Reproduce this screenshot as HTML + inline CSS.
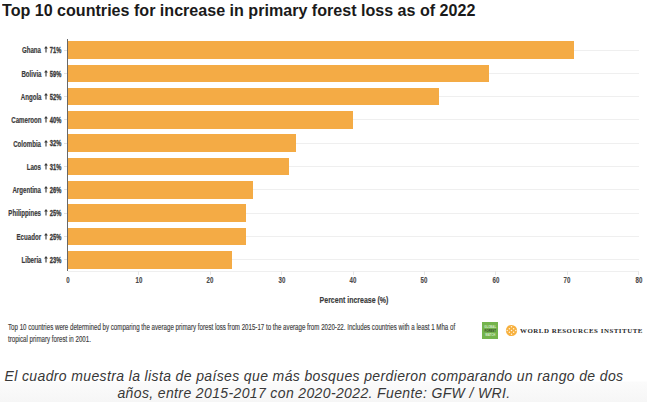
<!DOCTYPE html>
<html><head><meta charset="utf-8">
<style>
html,body{margin:0;padding:0;}
body{width:647px;height:402px;position:relative;overflow:hidden;font-family:"Liberation Sans",sans-serif;
background:linear-gradient(to bottom,#ffffff 0px,#ffffff 381px,#fbfbfb 382px,#f6f6f6 402px);}
.a{position:absolute;white-space:nowrap;}
.title{left:2px;top:0.9px;font-size:17px;font-weight:bold;color:#1a1a1a;letter-spacing:0px;line-height:20px;transform:scaleX(0.946);transform-origin:left top;}
.grid{position:absolute;left:68px;width:571px;height:1px;background:#efefef;}
.bar{position:absolute;left:68px;height:17.6px;background:#f4ab45;}
.axis{position:absolute;left:67.2px;top:38.5px;width:1.1px;height:232.5px;background:#686868;}
.lab{position:absolute;right:585.8px;font-size:9px;font-weight:bold;color:#3a3a3a;line-height:10px;transform:scaleX(0.68);transform-origin:right center;white-space:nowrap;-webkit-text-stroke:0.2px #3a3a3a;}
.lab svg{display:inline-block;vertical-align:baseline;margin:0 2px 0 0.9px;}
.tick{position:absolute;left:64px;width:3px;height:1px;background:#e2e2e2;}
.xt{position:absolute;top:271px;width:1px;height:4px;background:#e8e8e8;}
.xl{position:absolute;top:274.5px;width:40px;margin-left:-20px;text-align:center;font-size:9px;font-weight:bold;color:#4a4a4a;line-height:10px;transform:scaleX(0.68);-webkit-text-stroke:0.15px #4a4a4a;}
.xlab{left:304px;top:294.9px;width:100px;text-align:center;font-size:8.7px;font-weight:bold;color:#3a3a3a;line-height:11px;transform:scaleX(0.805);-webkit-text-stroke:0.15px #3a3a3a;}
.foot{left:8px;top:320.7px;font-size:8.4px;color:#404040;line-height:12.0px;transform:scaleX(0.736);transform-origin:left top;-webkit-text-stroke:0.15px #404040;}
.cap{left:-9.5px;top:368.0px;width:647px;text-align:center;font-size:14px;font-style:italic;color:#383838;line-height:16.6px;letter-spacing:0.37px;}
</style></head><body>
<div class="a title">Top 10 countries for increase in primary forest loss as of 2022</div>
<div class="grid" style="top:49.60px"></div>
<div class="grid" style="top:72.89px"></div>
<div class="grid" style="top:96.18px"></div>
<div class="grid" style="top:119.47px"></div>
<div class="grid" style="top:142.76px"></div>
<div class="grid" style="top:166.05px"></div>
<div class="grid" style="top:189.34px"></div>
<div class="grid" style="top:212.63px"></div>
<div class="grid" style="top:235.92px"></div>
<div class="grid" style="top:259.21px"></div>
<div class="grid" style="top:271px"></div>
<div class="bar" style="top:41.30px;width:506.26px"></div>
<div class="bar" style="top:64.59px;width:420.61px"></div>
<div class="bar" style="top:87.88px;width:370.65px"></div>
<div class="bar" style="top:111.17px;width:285.00px"></div>
<div class="bar" style="top:134.46px;width:227.90px"></div>
<div class="bar" style="top:157.75px;width:220.76px"></div>
<div class="bar" style="top:181.04px;width:185.08px"></div>
<div class="bar" style="top:204.33px;width:177.94px"></div>
<div class="bar" style="top:227.62px;width:177.94px"></div>
<div class="bar" style="top:250.91px;width:163.66px"></div>
<div class="axis"></div>
<div class="tick" style="top:49.60px"></div>
<div class="tick" style="top:72.89px"></div>
<div class="tick" style="top:96.18px"></div>
<div class="tick" style="top:119.47px"></div>
<div class="tick" style="top:142.76px"></div>
<div class="tick" style="top:166.05px"></div>
<div class="tick" style="top:189.34px"></div>
<div class="tick" style="top:212.63px"></div>
<div class="tick" style="top:235.92px"></div>
<div class="tick" style="top:259.21px"></div>
<div class="lab" style="top:45.40px;right:585.8px;transform:scaleX(0.595);font-size:9.7px;-webkit-text-stroke:0.35px #3a3a3a;top:45.25px">71%</div>
<div class="lab" style="top:45.40px;right:605.5px">Ghana</div>
<svg class="a" style="left:43.9px;top:46.40px" width="4" height="7" viewBox="0 0 4 7"><path d="M2 0 L3.9 2.5 L2.55 2.5 L2.55 6.6 L1.45 6.6 L1.45 2.5 L0.1 2.5 Z" fill="#3a3a3a"/></svg>
<div class="lab" style="top:68.69px;right:585.8px;transform:scaleX(0.595);font-size:9.7px;-webkit-text-stroke:0.35px #3a3a3a;top:68.54px">59%</div>
<div class="lab" style="top:68.69px;right:605.5px">Bolivia</div>
<svg class="a" style="left:43.9px;top:69.69px" width="4" height="7" viewBox="0 0 4 7"><path d="M2 0 L3.9 2.5 L2.55 2.5 L2.55 6.6 L1.45 6.6 L1.45 2.5 L0.1 2.5 Z" fill="#3a3a3a"/></svg>
<div class="lab" style="top:91.98px;right:585.8px;transform:scaleX(0.595);font-size:9.7px;-webkit-text-stroke:0.35px #3a3a3a;top:91.83px">52%</div>
<div class="lab" style="top:91.98px;right:605.5px">Angola</div>
<svg class="a" style="left:43.9px;top:92.98px" width="4" height="7" viewBox="0 0 4 7"><path d="M2 0 L3.9 2.5 L2.55 2.5 L2.55 6.6 L1.45 6.6 L1.45 2.5 L0.1 2.5 Z" fill="#3a3a3a"/></svg>
<div class="lab" style="top:115.27px;right:585.8px;transform:scaleX(0.595);font-size:9.7px;-webkit-text-stroke:0.35px #3a3a3a;top:115.12px">40%</div>
<div class="lab" style="top:115.27px;right:605.5px">Cameroon</div>
<svg class="a" style="left:43.9px;top:116.27px" width="4" height="7" viewBox="0 0 4 7"><path d="M2 0 L3.9 2.5 L2.55 2.5 L2.55 6.6 L1.45 6.6 L1.45 2.5 L0.1 2.5 Z" fill="#3a3a3a"/></svg>
<div class="lab" style="top:138.56px;right:585.8px;transform:scaleX(0.595);font-size:9.7px;-webkit-text-stroke:0.35px #3a3a3a;top:138.41px">32%</div>
<div class="lab" style="top:138.56px;right:605.5px">Colombia</div>
<svg class="a" style="left:43.9px;top:139.56px" width="4" height="7" viewBox="0 0 4 7"><path d="M2 0 L3.9 2.5 L2.55 2.5 L2.55 6.6 L1.45 6.6 L1.45 2.5 L0.1 2.5 Z" fill="#3a3a3a"/></svg>
<div class="lab" style="top:161.85px;right:585.8px;transform:scaleX(0.595);font-size:9.7px;-webkit-text-stroke:0.35px #3a3a3a;top:161.70px">31%</div>
<div class="lab" style="top:161.85px;right:605.5px">Laos</div>
<svg class="a" style="left:43.9px;top:162.85px" width="4" height="7" viewBox="0 0 4 7"><path d="M2 0 L3.9 2.5 L2.55 2.5 L2.55 6.6 L1.45 6.6 L1.45 2.5 L0.1 2.5 Z" fill="#3a3a3a"/></svg>
<div class="lab" style="top:185.14px;right:585.8px;transform:scaleX(0.595);font-size:9.7px;-webkit-text-stroke:0.35px #3a3a3a;top:184.99px">26%</div>
<div class="lab" style="top:185.14px;right:605.5px">Argentina</div>
<svg class="a" style="left:43.9px;top:186.14px" width="4" height="7" viewBox="0 0 4 7"><path d="M2 0 L3.9 2.5 L2.55 2.5 L2.55 6.6 L1.45 6.6 L1.45 2.5 L0.1 2.5 Z" fill="#3a3a3a"/></svg>
<div class="lab" style="top:208.43px;right:585.8px;transform:scaleX(0.595);font-size:9.7px;-webkit-text-stroke:0.35px #3a3a3a;top:208.28px">25%</div>
<div class="lab" style="top:208.43px;right:605.5px">Philippines</div>
<svg class="a" style="left:43.9px;top:209.43px" width="4" height="7" viewBox="0 0 4 7"><path d="M2 0 L3.9 2.5 L2.55 2.5 L2.55 6.6 L1.45 6.6 L1.45 2.5 L0.1 2.5 Z" fill="#3a3a3a"/></svg>
<div class="lab" style="top:231.72px;right:585.8px;transform:scaleX(0.595);font-size:9.7px;-webkit-text-stroke:0.35px #3a3a3a;top:231.57px">25%</div>
<div class="lab" style="top:231.72px;right:605.5px">Ecuador</div>
<svg class="a" style="left:43.9px;top:232.72px" width="4" height="7" viewBox="0 0 4 7"><path d="M2 0 L3.9 2.5 L2.55 2.5 L2.55 6.6 L1.45 6.6 L1.45 2.5 L0.1 2.5 Z" fill="#3a3a3a"/></svg>
<div class="lab" style="top:255.01px;right:585.8px;transform:scaleX(0.595);font-size:9.7px;-webkit-text-stroke:0.35px #3a3a3a;top:254.86px">23%</div>
<div class="lab" style="top:255.01px;right:605.5px">Liberia</div>
<svg class="a" style="left:43.9px;top:256.01px" width="4" height="7" viewBox="0 0 4 7"><path d="M2 0 L3.9 2.5 L2.55 2.5 L2.55 6.6 L1.45 6.6 L1.45 2.5 L0.1 2.5 Z" fill="#3a3a3a"/></svg>
<div class="xt" style="left:138.38px"></div>
<div class="xt" style="left:209.75px"></div>
<div class="xt" style="left:281.12px"></div>
<div class="xt" style="left:352.50px"></div>
<div class="xt" style="left:423.88px"></div>
<div class="xt" style="left:495.25px"></div>
<div class="xt" style="left:566.62px"></div>
<div class="xt" style="left:638.00px"></div>
<div class="xl" style="left:67.50px">0</div>
<div class="xl" style="left:138.88px">10</div>
<div class="xl" style="left:210.25px">20</div>
<div class="xl" style="left:281.62px">30</div>
<div class="xl" style="left:353.00px">40</div>
<div class="xl" style="left:424.38px">50</div>
<div class="xl" style="left:495.75px">60</div>
<div class="xl" style="left:567.12px">70</div>
<div class="xl" style="left:638.50px">80</div>
<div class="a xlab">Percent increase (%)</div>
<div class="a foot">Top 10 countries were determined by comparing the average primary forest loss from 2015-17 to the average from 2020-22. Includes countries with a least 1 Mha of<br>tropical primary forest in 2001.</div>
<div class="a" style="left:482.2px;top:322.3px;width:16px;height:16.5px;background:#74b44c;"></div>
<div class="a" style="left:482.2px;top:325.4px;width:16px;text-align:center;font-size:2.8px;font-weight:bold;line-height:4px;color:#d9ebcc;">GLOBAL<br><span style="color:#34452a">FOREST</span><br>WATCH</div>
<svg class="a" style="left:505px;top:324px" width="13" height="13" viewBox="0 0 13 13">
<circle cx="6.5" cy="6.5" r="5.6" fill="#f7b03e"/>
<g fill="#fff4e0"><circle cx="2.20" cy="6.50" r="0.75"/><circle cx="4.35" cy="4.65" r="0.75"/><circle cx="4.35" cy="8.35" r="0.75"/><circle cx="6.50" cy="2.80" r="0.75"/><circle cx="6.50" cy="6.50" r="0.75"/><circle cx="6.50" cy="10.20" r="0.75"/><circle cx="8.65" cy="4.65" r="0.75"/><circle cx="8.65" cy="8.35" r="0.75"/><circle cx="10.80" cy="6.50" r="0.75"/></g>
</svg>
<div class="a" style="left:520px;top:327px;font-family:'Liberation Serif',serif;font-weight:bold;font-size:6.9px;letter-spacing:0.52px;color:#2a2a2a;line-height:8px;">WORLD RESOURCES INSTITUTE</div>
<div class="a cap">El cuadro muestra la lista de países que más bosques perdieron comparando un rango de dos<br>años, entre 2015-2017 con 2020-2022. Fuente: GFW / WRI.</div>
</body></html>
